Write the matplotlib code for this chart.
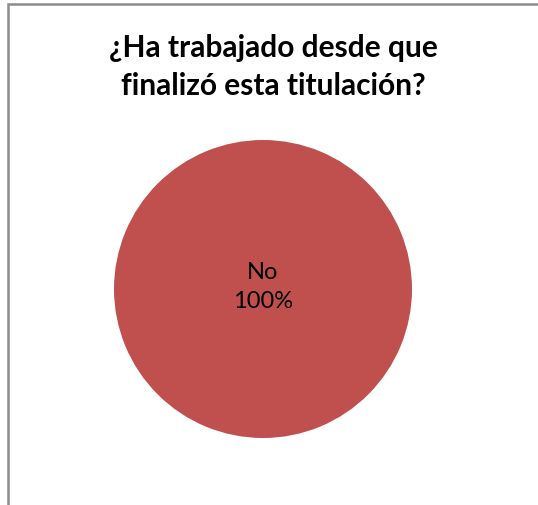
import matplotlib
matplotlib.use("Agg")
import matplotlib.pyplot as plt
from matplotlib.patches import Rectangle

categories = ["No"]
values = [100]
colors = ["#C0504D"]
title = "¿Ha trabajado desde que\nfinalizó esta titulación?"

W, H = 538, 506
fig = plt.figure(figsize=(W/100, H/100), dpi=100)
fig.patch.set_facecolor("white")

# outer border (extends past right/bottom edge)
fig.add_artist(Rectangle((7.5/W, -0.1), 1.2, 1 - 4.5/H + 0.1, transform=fig.transFigure,
                         fill=False, edgecolor="#8c8c8c", linewidth=1.8))

fig.text(273/W, 1 - 67/H, title, ha="center", va="center", fontsize=21.5,
         fontweight="bold", family=["Lato", "DejaVu Sans"], linespacing=1.4)

cx, cy, r = 263, 290, 149
ax = fig.add_axes([(cx - r)/W, 1 - (cy + r)/H, 2*r/W, 2*r/H])
wedges, texts = ax.pie(values, colors=colors, startangle=90, radius=1,
                       wedgeprops=dict(linewidth=0))
ax.set_xlim(-1, 1)
ax.set_ylim(-1, 1)
ax.set_aspect("auto")
ax.axis("off")
for c, v in zip(categories, values):
    ax.text(0, 0.02, f"{c}\n{v}%", ha="center", va="center", fontsize=17,
            family=["Lato", "DejaVu Sans"], linespacing=1.5)

fig.savefig("out.png", dpi=100)
